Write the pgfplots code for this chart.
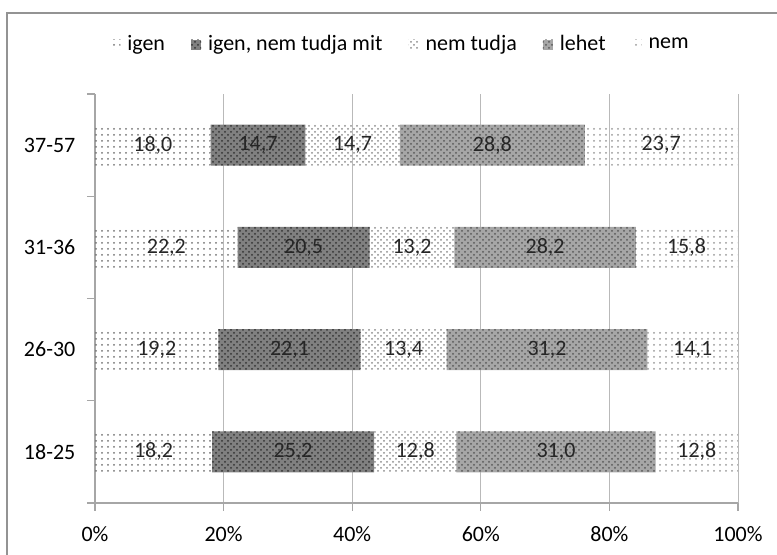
\documentclass[11pt,border=0pt]{standalone}
\usepackage{fontspec}
\setmainfont{Carlito}
\usepackage{pgfplots}
\usepackage{pgfplotstable}
\pgfplotsset{compat=1.18}
\usetikzlibrary{patterns}

\pgfplotstableread{
c igen inntm nt lehet nem
0 18.2 25.2 12.8 31.0 12.8
1 19.2 22.1 13.4 31.2 14.1
2 22.2 20.5 13.2 28.2 15.8
3 18.0 14.7 14.7 28.8 23.7
}\data

\newcommand{\chartfont}{\fontsize{11}{13}\selectfont}

\begin{document}
\begin{tikzpicture}[font=\chartfont]
\path[use as bounding box] (0pt,0pt) rectangle (388.5pt,277.5pt);
\draw[gray!85, line width=1pt] (3.5pt,0pt) -- (3.5pt,271pt) -- (388.5pt,271pt);
\begin{axis}[
  at={(47.5pt,26pt)}, anchor=south west,
  scale only axis, width=321.5pt, height=204.5pt,
  xbar stacked, bar width=20.5pt,
  xmin=0, xmax=100, ymin=-0.5, ymax=3.5,
  axis x line*=bottom, axis y line*=left,
  axis line style={-, gray!70, line width=0.6pt},
  tick align=outside, major tick length=4pt,
  tick style={gray!70, line width=0.6pt},
  xtick={0,20,...,100},
  xticklabel={\pgfmathprintnumber{\tick}\%},
  xticklabel style={font=\chartfont, yshift=-4pt},
  ytick={-0.5,0.5,1.5,2.5,3.5}, yticklabels={,,,,},
  extra y ticks={0,1,2,3},
  extra y tick labels={18-25,26-30,31-36,37-57},
  extra y tick style={tick style={draw=none}},
  yticklabel style={font=\chartfont, xshift=-2pt},
  /pgf/number format/assume math mode=true,
  xmajorgrids, grid style={gray!55, line width=0.5pt},
  legend columns=5,
  legend style={draw=none, at={(0.5,1)}, anchor=center, yshift=24.5pt, xshift=-7.5pt, font=\chartfont,
    /tikz/every even column/.append style={column sep=11pt},
    /tikz/every odd column/.append style={column sep=1.5pt}},
  legend image code/.code={\path[#1, draw=none] (0pt,-2.5pt) rectangle (5pt,2.5pt);},
  point meta=explicit,
  nodes near coords={\makebox[0pt][c]{\pgfmathprintnumber[fixed,fixed zerofill,precision=1,use comma]{\pgfplotspointmeta}}},
  every node near coord/.append style={font=\chartfont, text=black!85, inner sep=0pt},
]
\addplot[draw=none, pattern=dots, pattern color=black!55] table[x=igen, y=c, meta=igen] {\data};
\addplot[draw=none, fill=black!50, postaction={pattern=crosshatch dots, pattern color=black!80}] table[x=inntm, y=c, meta=inntm] {\data};
\addplot[draw=none, pattern=crosshatch dots, pattern color=black!45] table[x=nt, y=c, meta=nt] {\data};
\addplot[draw=none, fill=black!35, postaction={pattern=crosshatch dots, pattern color=black!65}] table[x=lehet, y=c, meta=lehet] {\data};
\addplot[draw=none, pattern=dots, pattern color=black!40] table[x=nem, y=c, meta=nem] {\data};
\legend{igen, {igen, nem tudja mit}, nem tudja, lehet, nem}
\end{axis}
\end{tikzpicture}
\end{document}
